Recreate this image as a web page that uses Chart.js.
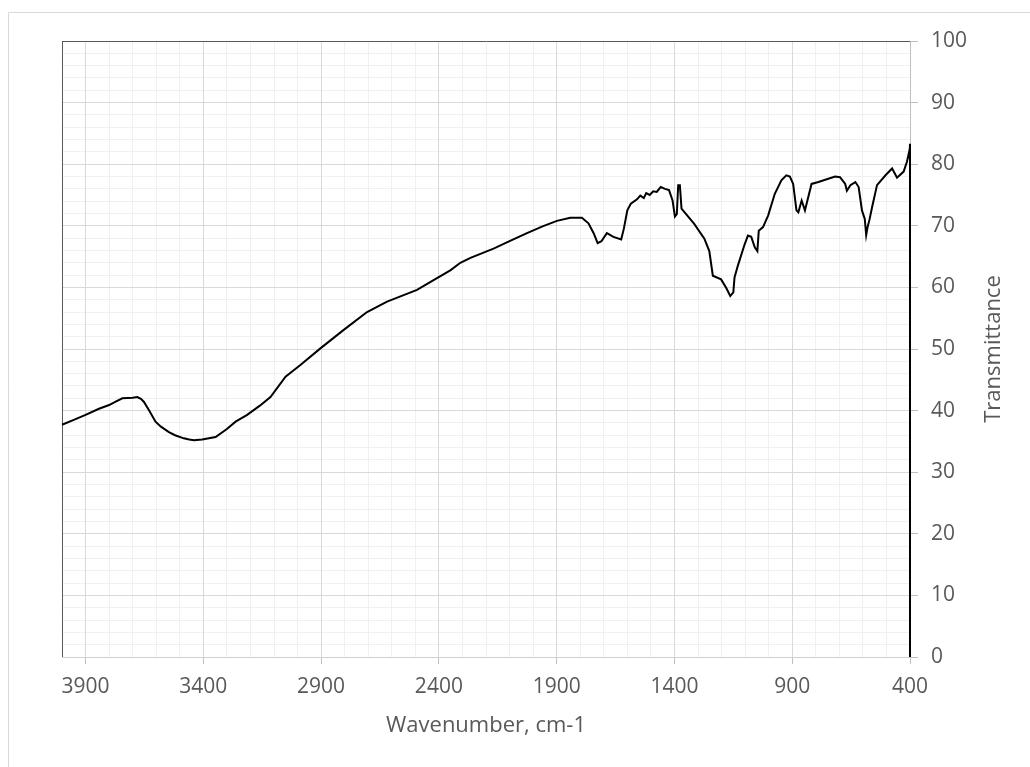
<!DOCTYPE html>
<html>
<head>
<meta charset="utf-8">
<title>IR spectrum</title>
<script src="https://cdn.jsdelivr.net/npm/chart.js@4.4.1/dist/chart.umd.min.js"></script>
<style>
  body { margin: 0; background: #fff; }
  canvas { display: block; }
</style>
</head>
<body>
<canvas id="chart" width="1030" height="767"></canvas>
<script>
// spectrum, high wavenumber first
var wavenumbers = [
  4000, 3950, 3900, 3843, 3800, 3770, 3744, 3700, 3680, 3665, 3652, 3630, 3603,
  3580, 3546, 3520, 3483, 3460, 3440, 3405, 3348, 3300, 3263, 3214, 3160, 3115,
  3051, 2988, 2903, 2804, 2705, 2620, 2493, 2408, 2350, 2309, 2266, 2168, 2100,
  2026, 1960, 1899, 1842, 1793, 1765, 1743, 1726, 1710, 1687, 1659, 1626, 1615,
  1600, 1585, 1559, 1545, 1530, 1520, 1505, 1490, 1475, 1465, 1458, 1440, 1423,
  1408, 1398, 1390, 1384, 1377, 1370, 1316, 1273, 1252, 1237, 1202, 1180, 1163,
  1150, 1145, 1131, 1102, 1088, 1074, 1059, 1048, 1042, 1024, 1002, 974, 946,
  925, 910, 896, 882, 874, 860, 846, 818, 789, 718, 697, 675, 668, 653, 632, 618,
  604, 592, 586, 580, 572, 561, 540, 504, 476, 455, 427, 413, 405, 402, 400, 400
];
var transmittance = [
  37.7, 38.5, 39.3, 40.3, 40.9, 41.5, 42.0, 42.1, 42.2, 41.9, 41.4, 40.0, 38.2,
  37.4, 36.5, 36.0, 35.5, 35.3, 35.2, 35.3, 35.7, 37.0, 38.2, 39.3, 40.8, 42.2,
  45.5, 47.4, 50.1, 53.1, 56.0, 57.7, 59.6, 61.5, 62.8, 64.0, 64.8, 66.3, 67.5,
  68.8, 69.9, 70.8, 71.3, 71.3, 70.4, 68.8, 67.2, 67.5, 68.8, 68.2, 67.8, 69.5,
  72.5, 73.6, 74.3, 74.9, 74.5, 75.3, 75.0, 75.6, 75.5, 76.0, 76.3, 76.0, 75.8,
  74.1, 71.5, 71.9, 76.6, 76.6, 72.8, 70.3, 67.9, 65.9, 61.9, 61.3, 59.9, 58.6,
  59.2, 61.6, 63.5, 67.0, 68.4, 68.2, 66.5, 65.9, 69.2, 69.8, 71.7, 75.2, 77.4,
  78.2, 78.0, 76.8, 72.5, 72.2, 74.1, 72.5, 76.8, 77.1, 78.0, 77.9, 76.8, 75.7,
  76.6, 77.1, 76.3, 72.5, 71.1, 68.5, 69.8, 71.0, 73.0, 76.6, 78.2, 79.3, 77.8,
  78.8, 80.4, 81.8, 81.2, 83.3, 0
];
var xTickValues = [3900, 3400, 2900, 2400, 1900, 1400, 900, 400];
var xTitle = "Wavenumber, cm-1";
var yTitle = "Transmittance";

var textColor = "#595959";
var points = [];
for (var i = 0; i < wavenumbers.length; i++) {
  points.push({ x: wavenumbers[i], y: transmittance[i] });
}

var extras = {
  id: "extras",
  beforeDraw: function (chart) {
    var ctx = chart.ctx;
    ctx.save();
    ctx.strokeStyle = "#d9d9d9";
    ctx.lineWidth = 1;
    ctx.beginPath();
    ctx.moveTo(8.5, 767);
    ctx.lineTo(8.5, 12.5);
    ctx.lineTo(1030, 12.5);
    ctx.stroke();
    ctx.restore();
  },
  afterDraw: function (chart) {
    var ctx = chart.ctx;
    var area = chart.chartArea;
    ctx.save();
    ctx.translate(994, (area.top + area.bottom) / 2);
    ctx.rotate(-Math.PI / 2);
    ctx.fillStyle = textColor;
    ctx.font = "22px 'Open Sans'";
    ctx.textAlign = "center";
    ctx.textBaseline = "middle";
    ctx.fillText(yTitle, 0, 0);
    ctx.restore();
  }
};

function plainNumber(v) {
  return String(v);
}

new Chart(document.getElementById("chart"), {
  type: "line",
  data: {
    datasets: [{
      data: points,
      borderColor: "#000",
      borderWidth: 2,
      pointRadius: 0,
      tension: 0,
      clip: false,
      xAxisID: "x",
      yAxisID: "y"
    }]
  },
  options: {
    responsive: false,
    animation: false,
    events: [],
    layout: { padding: { left: 62, top: 41, right: 0, bottom: 28 } },
    plugins: { legend: { display: false }, tooltip: { enabled: false } },
    scales: {
      xMinor: {
        type: "linear", position: "top", reverse: true, min: 400, max: 4000, z: -1,
        ticks: { display: false, stepSize: 100, maxTicksLimit: 1000 },
        grid: { color: "#f0f0f0", lineWidth: 1, drawTicks: false },
        border: { color: "#595959", width: 1 },
        afterFit: function (s) { s.height = 0; }
      },
      yMinor: {
        type: "linear", position: "left", min: 0, max: 100, z: -1,
        ticks: { display: false, stepSize: 2, maxTicksLimit: 1000 },
        grid: { color: "#f0f0f0", lineWidth: 1, drawTicks: false },
        border: { color: "#595959", width: 1 },
        afterFit: function (s) { s.width = 0; }
      },
      x: {
        type: "linear", position: "bottom", reverse: true, min: 400, max: 4000,
        afterBuildTicks: function (s) {
          s.ticks = xTickValues.map(function (v) { return { value: v }; });
        },
        ticks: {
          color: textColor, font: { family: "'Open Sans'", size: 21 }, padding: 10,
          maxRotation: 0, autoSkip: false, callback: plainNumber
        },
        grid: { color: "#d9d9d9", tickColor: "#bfbfbf", tickLength: 7 },
        border: { color: "#d0d0d0", width: 1 },
        title: { display: true, text: xTitle, color: textColor, font: { family: "'Open Sans'", size: 22 }, padding: 0 },
        afterFit: function (s) { s.height = 767 - 28 - 657; }
      },
      y: {
        type: "linear", position: "right", min: 0, max: 100,
        ticks: {
          stepSize: 10, color: textColor, font: { family: "'Open Sans'", size: 21 }, padding: 13,
          callback: plainNumber
        },
        grid: {
          color: function (c) { return c.tick && c.tick.value === 100 ? "rgba(0,0,0,0)" : "#d9d9d9"; },
          tickColor: "#bfbfbf", tickLength: 8
        },
        border: { color: "#bfbfbf", width: 1 },
        afterFit: function (s) { s.width = 1030 - 910; }
      }
    }
  },
  plugins: [extras]
});
</script>
</body>
</html>
